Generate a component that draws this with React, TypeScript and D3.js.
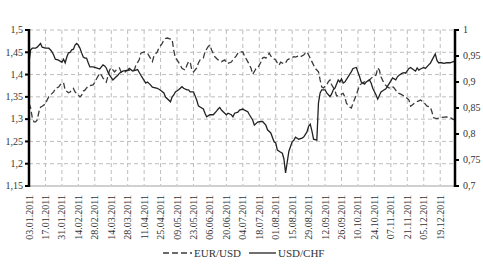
import React from "react";
import * as d3 from "d3";

const tickLabels = [
  "03.01.2011","17.01.2011","31.01.2011","14.02.2011","28.02.2011","14.03.2011","28.03.2011",
  "11.04.2011","25.04.2011","09.05.2011","23.05.2011","06.06.2011","20.06.2011","04.07.2011",
  "18.07.2011","01.08.2011","15.08.2011","29.08.2011","12.09.2011","26.09.2011","10.10.2011",
  "24.10.2011","07.11.2011","21.11.2011","05.12.2011","19.12.2011",
];
const tickEvery = 10; // trading days between labels
const tradingDayCount = 260;

const leftTicks = [1.15, 1.2, 1.25, 1.3, 1.35, 1.4, 1.45, 1.5];
const rightTicks = [0.7, 0.75, 0.8, 0.85, 0.9, 0.95, 1];

// [trading day index, EUR/USD]
const eurUsd: [number, number][] = [
  [0,1.336],[1,1.325],[2,1.303],[3,1.294],[4,1.294],[5,1.298],[6,1.316],[7,1.327],[8,1.329],[10,1.334],
  [11,1.343],[12,1.350],[13,1.354],[15,1.361],[16,1.369],[18,1.372],[19,1.377],[20,1.380],[21,1.382],[22,1.365],
  [24,1.359],[25,1.361],[27,1.369],[28,1.361],[30,1.354],[31,1.350],[32,1.354],[33,1.363],[34,1.365],[35,1.370],
  [36,1.374],[39,1.377],[40,1.383],[41,1.390],[43,1.403],[44,1.399],[45,1.392],[46,1.388],[47,1.383],[49,1.410],
  [50,1.415],[52,1.406],[53,1.410],[55,1.415],[56,1.406],[58,1.404],[59,1.408],[61,1.410],[64,1.410],[65,1.421],
  [67,1.433],[68,1.448],[70,1.451],[72,1.448],[73,1.442],[75,1.429],[76,1.442],[78,1.451],[79,1.460],[81,1.470],
  [82,1.478],[83,1.481],[84,1.482],[87,1.479],[88,1.455],[89,1.437],[90,1.433],[92,1.421],[93,1.414],[95,1.410],
  [96,1.421],[97,1.429],[98,1.428],[99,1.410],[100,1.406],[102,1.415],[103,1.426],[104,1.433],[106,1.437],[107,1.451],
  [109,1.463],[110,1.466],[111,1.455],[113,1.440],[115,1.433],[117,1.429],[119,1.433],[120,1.426],[121,1.425],[123,1.428],
  [124,1.433],[126,1.442],[127,1.448],[128,1.451],[130,1.451],[131,1.442],[133,1.429],[135,1.414],[136,1.401],[138,1.413],
  [139,1.414],[141,1.428],[142,1.437],[143,1.439],[144,1.437],[146,1.448],[147,1.442],[148,1.437],[150,1.433],[151,1.426],
  [152,1.421],[153,1.428],[155,1.424],[156,1.426],[157,1.433],[159,1.437],[161,1.440],[162,1.439],[164,1.442],[165,1.440],
  [167,1.444],[168,1.448],[169,1.451],[170,1.444],[172,1.429],[174,1.414],[176,1.406],[177,1.388],[178,1.372],[179,1.370],
  [181,1.377],[182,1.384],[183,1.388],[184,1.377],[186,1.365],[187,1.352],[189,1.354],[191,1.358],[192,1.350],[193,1.336],
  [195,1.327],[196,1.325],[197,1.336],[199,1.354],[201,1.377],[203,1.381],[204,1.384],[206,1.386],[207,1.388],[209,1.395],
  [211,1.399],[212,1.415],[213,1.410],[214,1.395],[216,1.379],[218,1.372],[219,1.370],[221,1.373],[222,1.370],[224,1.359],
  [226,1.356],[229,1.350],[231,1.343],[232,1.329],[233,1.332],[235,1.338],[237,1.341],[238,1.343],[240,1.338],[242,1.329],
  [244,1.327],[245,1.316],[246,1.303],[248,1.301],[251,1.304],[254,1.305],[256,1.304],[258,1.299],[259,1.300],
];

// [trading day index, USD/CHF]
const usdChf: [number, number][] = [
  [0,0.938],[1,0.962],[2,0.965],[4,0.965],[5,0.967],[7,0.974],[8,0.967],[10,0.965],[12,0.965],[13,0.962],
  [14,0.958],[15,0.952],[16,0.944],[18,0.942],[20,0.938],[21,0.944],[22,0.937],[23,0.948],[24,0.956],[25,0.957],
  [26,0.962],[27,0.963],[28,0.971],[29,0.974],[30,0.971],[31,0.965],[32,0.956],[33,0.948],[34,0.946],[35,0.946],
  [36,0.937],[37,0.929],[39,0.929],[41,0.927],[43,0.925],[44,0.929],[45,0.933],[46,0.931],[47,0.927],[48,0.919],
  [49,0.913],[51,0.904],[53,0.910],[54,0.913],[55,0.917],[57,0.921],[60,0.923],[61,0.926],[63,0.921],[66,0.924],
  [68,0.913],[69,0.908],[71,0.898],[72,0.900],[74,0.894],[75,0.890],[78,0.888],[80,0.884],[82,0.879],[83,0.871],
  [86,0.862],[87,0.871],[88,0.875],[89,0.881],[91,0.885],[93,0.891],[94,0.888],[96,0.885],[97,0.885],[98,0.881],
  [100,0.881],[101,0.873],[102,0.865],[103,0.854],[104,0.852],[106,0.848],[107,0.840],[108,0.833],[110,0.837],[112,0.837],
  [114,0.844],[115,0.848],[116,0.851],[117,0.846],[119,0.840],[120,0.837],[121,0.840],[123,0.837],[124,0.833],[125,0.840],
  [127,0.842],[128,0.846],[130,0.848],[131,0.846],[133,0.843],[134,0.837],[136,0.827],[137,0.817],[139,0.823],[141,0.824],
  [142,0.824],[144,0.817],[145,0.808],[147,0.802],[149,0.785],[150,0.783],[151,0.769],[153,0.765],[154,0.763],[155,0.752],
  [156,0.725],[157,0.746],[158,0.767],[160,0.785],[161,0.788],[162,0.794],[164,0.790],[166,0.792],[167,0.794],[169,0.804],
  [170,0.815],[171,0.819],[172,0.806],[173,0.790],[175,0.788],[176,0.860],[177,0.879],[178,0.885],[180,0.885],[181,0.879],
  [183,0.872],[184,0.877],[185,0.885],[186,0.888],[188,0.904],[189,0.900],[190,0.906],[191,0.898],[192,0.900],[194,0.910],
  [196,0.920],[197,0.926],[199,0.928],[200,0.919],[201,0.910],[202,0.900],[203,0.898],[204,0.896],[205,0.900],[207,0.904],
  [208,0.898],[209,0.888],[211,0.875],[212,0.867],[214,0.881],[216,0.885],[217,0.887],[218,0.892],[220,0.902],[221,0.908],
  [223,0.904],[224,0.910],[225,0.913],[227,0.917],[228,0.918],[229,0.917],[231,0.926],[232,0.928],[234,0.923],[235,0.921],
  [236,0.927],[237,0.923],[238,0.925],[240,0.928],[241,0.926],[243,0.933],[244,0.936],[245,0.942],[247,0.954],[248,0.942],
  [249,0.937],[251,0.937],[252,0.936],[254,0.937],[256,0.937],[258,0.939],[259,0.940],
];

const W = 483;
const H = 267;
const PL = 29;
const PR = 455;
const PT = 30;
const PB = 186;
const FONT = "'Liberation Serif', 'Times New Roman', serif";

export default function App() {
  const x = d3.scaleLinear().domain([0, tradingDayCount - 1]).range([PL, PR]);
  const yL = d3.scaleLinear().domain([1.15, 1.5]).range([PB, PT]);
  const yR = d3.scaleLinear().domain([0.7, 1]).range([PB, PT]);

  const lineL = d3.line<[number, number]>().x((d) => x(d[0])).y((d) => yL(d[1]));
  const lineR = d3.line<[number, number]>().x((d) => x(d[0])).y((d) => yR(d[1]));

  const fmt = (v: number) => String(+v.toFixed(2)).replace(".", ",");
  const gridColor = "#bdbdbd";
  const textColor = "#333";

  return (
    <svg
      width={W}
      height={H}
      style={{ position: "fixed", left: 0, top: 0, background: "#fff" }}
      fontFamily={FONT}
    >
      <rect width={W} height={H} fill="#fff" />
      {/* horizontal grid */}
      {leftTicks.slice(1).map((t) => (
        <line key={"h" + t} x1={PL} x2={PR} y1={yL(t)} y2={yL(t)} stroke={gridColor} strokeWidth={1} strokeDasharray="4 3" />
      ))}
      {/* vertical grid */}
      {tickLabels.map((lab, i) => (
        <line key={"v" + lab} x1={x(i * tickEvery)} x2={x(i * tickEvery)} y1={PT} y2={PB} stroke={gridColor} strokeWidth={1} strokeDasharray="4 3" />
      ))}
      {/* bottom axis */}
      <line x1={PL} x2={PR} y1={PB} y2={PB} stroke="#d0d0d0" strokeWidth={2} />
      {/* series */}
      <path d={lineL(eurUsd) || ""} fill="none" stroke="#3a3a3a" strokeWidth={1.3} strokeDasharray="6 3" />
      <path d={lineR(usdChf) || ""} fill="none" stroke="#222" strokeWidth={1.3} />
      {/* left axis */}
      <line x1={PL} x2={PL} y1={PT - 1} y2={PB + 1} stroke="#000" strokeWidth={2.5} />
      {leftTicks.map((t) => (
        <g key={"l" + t}>
          <line x1={PL - 4} x2={PL} y1={yL(t)} y2={yL(t)} stroke="#000" strokeWidth={2} />
          <text x={PL - 6} y={yL(t)} dy="0.33em" textAnchor="end" fontSize={10} fill={textColor}>
            {fmt(t)}
          </text>
        </g>
      ))}
      {/* right axis */}
      <line x1={PR} x2={PR} y1={PT - 1} y2={PB + 1} stroke="#000" strokeWidth={2.5} />
      {rightTicks.map((t) => (
        <g key={"r" + t}>
          <line x1={PR} x2={PR + 4} y1={yR(t)} y2={yR(t)} stroke="#000" strokeWidth={2} />
          <text x={PR + 8} y={yR(t)} dy="0.33em" textAnchor="start" fontSize={10} fill={textColor}>
            {fmt(t)}
          </text>
        </g>
      ))}
      {/* x labels */}
      {tickLabels.map((lab, i) => {
        const px = x(i * tickEvery) + 3.5;
        return (
          <text key={"x" + lab} transform={`translate(${px},${PB + 9}) rotate(-90)`} textAnchor="end" fontSize={10} fill={textColor}>
            {lab}
          </text>
        );
      })}
      {/* legend */}
      <line x1={163} x2={192} y1={253} y2={253} stroke="#3a3a3a" strokeWidth={1.3} strokeDasharray="6 3" />
      <text x={194} y={253} dy="0.33em" fontSize={11} fill={textColor}>EUR/USD</text>
      <line x1={249} x2={276} y1={253} y2={253} stroke="#222" strokeWidth={1.3} />
      <text x={278} y={253} dy="0.33em" fontSize={11} fill={textColor}>USD/CHF</text>
    </svg>
  );
}
